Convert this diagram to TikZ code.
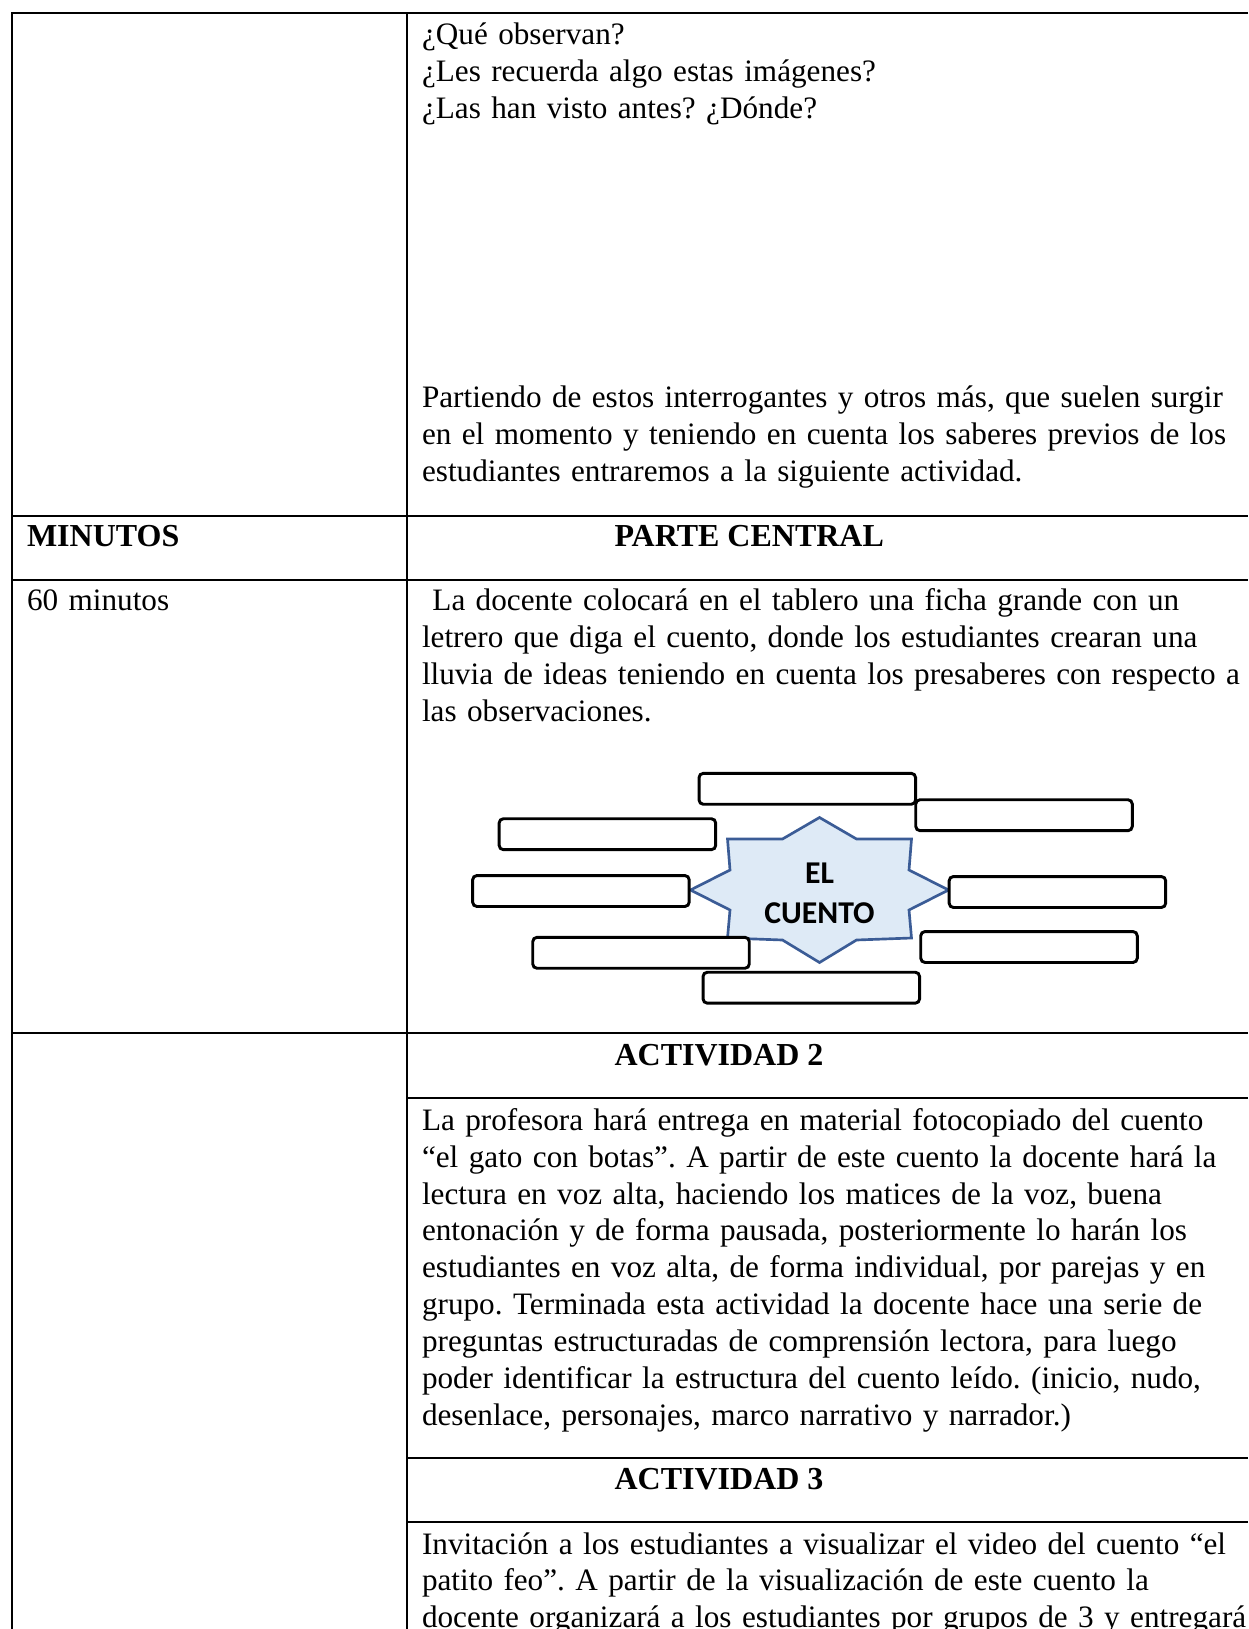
\documentclass[tikz,border=0pt]{standalone}
\usepackage{fontspec}
\setmainfont{Liberation Serif}
\newfontfamily\calibri{Carlito}
\usetikzlibrary{positioning}
\frenchspacing
\definecolor{starfill}{HTML}{DEEAF6}
\definecolor{starline}{HTML}{3B5C96}
\tikzset{
	rule/.style={line width=0.65pt},
	txt/.style={anchor=base west, inner sep=0pt, align=left, text width=340pt, font=\fontsize{11.7pt}{13.84pt}\selectfont},
	head/.style={anchor=base west, inner sep=0pt, font=\fontsize{12pt}{13.84pt}\selectfont\bfseries},
	ficha/.style={draw, fill=white, line width=1.1pt, rounded corners=1.6pt, minimum width=81.2pt, minimum height=11.6pt, inner sep=0pt}
}

\begin{document}
\begin{tikzpicture}[x=0.375pt, y=-0.375pt]
		\useasboundingbox (0,0) rectangle (1248,1629);
		\clip (0,0) rectangle (1248,1629);
		
		% Table rules
		\draw[rule] (1248,12.7) -| (12,1629);
		\draw[rule] (407,12.7) -- (407,1629);
		\draw[rule] (12,516) -- (1248,516);
		\draw[rule] (12,580) -- (1248,580);
		\draw[rule] (12,1033.3) -- (1248,1033.3);
		\draw[rule] (407,1098.3) -- (1248,1098.3);
		\draw[rule] (407,1458) -- (1248,1458);
		\draw[rule] (407,1522) -- (1248,1522);
		
		% Opening questions
		\node[txt] (preguntas) at (421.5,44.5) {¿Qué observan?\\¿Les recuerda algo estas imágenes?\\¿Las han visto antes? ¿Dónde?};
		\node[txt] (partiendo) at (421.5,408) {Partiendo de estos interrogantes y otros más, que suelen surgir\\en el momento y teniendo en cuenta los saberes previos de los\\estudiantes entraremos a la siguiente actividad.};
		
		% Central part
		\node[head] (minutos) at (26.5,546) {MINUTOS};
		\node[head] (central) at (614,546) {PARTE CENTRAL};
		\node[txt] (tiempo) at (26.5,610.5) {60 minutos};
		\node[txt] (docente) at (421.5,610.5) {\ La docente colocará en el tablero una ficha grande con un\\letrero que diga el cuento, donde los estudiantes crearan una\\lluvia de ideas teniendo en cuenta los presaberes con respecto a\\las observaciones.};
		
		% Star with the empty cards
		\draw[starline, fill=starfill, line width=1pt, shift={(819.5,890)}]
			(0,-72.5) -- (-37,-51) -- (-92,-51) -- (-89.5,-20) -- (-129,0) -- (-89.5,20) -- (-92,48) -- (-37,50)
			-- (0,72.5) -- (37,50) -- (92,48) -- (89.5,20) -- (129,0) -- (89.5,-20) -- (92,-51) -- (37,-51) -- cycle;
		\node[font=\calibri\bfseries\fontsize{11.9pt}{15pt}\selectfont, align=center] (cuento) at (819.5,893.8) {EL\\CUENTO};
		\node[ficha] (idea1) at (807.3,788.8) {};
		\node[ficha] (idea2) at (1024,815.2) {};
		\node[ficha] (idea3) at (607.4,834.2) {};
		\node[ficha] (idea4) at (580.9,891) {};
		\node[ficha] (idea5) at (1057.4,892) {};
		\node[ficha] (idea6) at (1029,947) {};
		\node[ficha] (idea7) at (641,952.8) {};
		\node[ficha] (idea8) at (811.3,987.7) {};
		
		% Activity 2
		\node[head] (act2) at (614,1065) {ACTIVIDAD 2};
		\node[txt] (profesora) at (421.5,1130.2) {La profesora hará entrega en material fotocopiado del cuento\\“el gato con botas”. A partir de este cuento la docente hará la\\lectura en voz alta, haciendo los matices de la voz, buena\\entonación y de forma pausada, posteriormente lo harán los\\estudiantes en voz alta, de forma individual, por parejas y en\\grupo. Terminada esta actividad la docente hace una serie de\\preguntas estructuradas de comprensión lectora, para luego\\poder identificar la estructura del cuento leído. (inicio, nudo,\\desenlace, personajes, marco narrativo y narrador.)};
		
		% Activity 3
		\node[head] (act3) at (614,1489.5) {ACTIVIDAD 3};
		\node[txt] (invitacion) at (421.5,1554) {Invitación a los estudiantes a visualizar el video del cuento “el\\patito feo”. A partir de la visualización de este cuento la\\docente organizará a los estudiantes por grupos de 3 y entregará};
\end{tikzpicture}
\end{document}
